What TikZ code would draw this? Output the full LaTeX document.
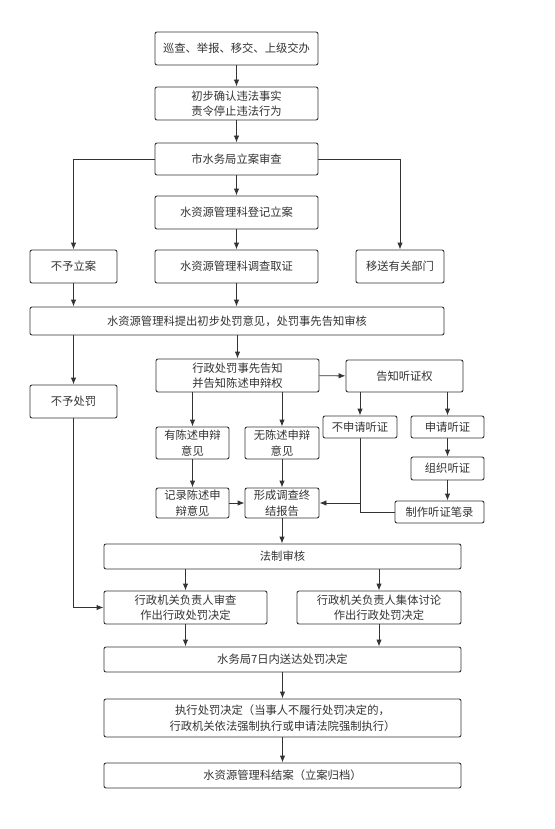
\documentclass[tikz,border=0pt]{standalone}
\usepackage{fontspec}
\setmainfont{Noto Sans CJK SC}
\usetikzlibrary{arrows.meta}
\definecolor{ink}{HTML}{333333}
\begin{document}
\begin{tikzpicture}[x=1pt, y=-1pt, >={Latex[length=7pt,width=5.5pt]}, color=ink, line width=.9pt,
  box/.style={draw=ink, rounded corners=2pt, fill=white, text=ink,
    align=center, inner sep=0pt, font=\fontsize{11.3}{15.5}\selectfont}]
\useasboundingbox (0,0) rectangle (554,829);
% main column
\node[box, minimum width=163, minimum height=33] (xc) at (236.5,48.5) {巡查、举报、移交、上级交办};
\node[box, minimum width=163, minimum height=33] (qr) at (236.5,103.5) {初步确认违法事实\\责令停止违法行为};
\node[box, minimum width=163, minimum height=32] (sc) at (236.5,159) {市水务局立案审查};
\node[box, minimum width=163, minimum height=33] (dj) at (236.5,212.5) {水资源管理科登记立案};
\node[box, minimum width=87, minimum height=33] (bylian) at (73.5,266.5) {不予立案};
\node[box, minimum width=163, minimum height=33] (dc) at (236.5,266.5) {水资源管理科调查取证};
\node[box, minimum width=88, minimum height=33] (ys) at (400,266.5) {移送有关部门};
\node[box, minimum width=414, minimum height=28] (yj) at (237,321) {水资源管理科提出初步处罚意见，处罚事先告知审核};
\node[box, minimum width=87, minimum height=33] (bycf) at (73.5,401.5) {不予处罚};
\node[box, minimum width=163, minimum height=33] (gz) at (237.5,375.5) {行政处罚事先告知\\并告知陈述申辩权};
\node[box, minimum width=117, minimum height=32] (tzq) at (404.5,376) {告知听证权};
% statements and hearing
\node[box, minimum width=73, minimum height=32] (ycs) at (192.5,443) {有陈述申辩\\意见};
\node[box, minimum width=74, minimum height=32] (wcs) at (282,443) {无陈述申辩\\意见};
\node[box, minimum width=74, minimum height=22] (bsq) at (360,427) {不申请听证};
\node[box, minimum width=73, minimum height=22] (sq) at (447.5,427) {申请听证};
\node[box, minimum width=73, minimum height=23] (zz) at (447.5,468.5) {组织听证};
\node[box, minimum width=89, minimum height=22] (bl) at (439.5,512) {制作听证笔录};
\node[box, minimum width=73, minimum height=30] (jl) at (192.5,503) {记录陈述申\\辩意见};
\node[box, minimum width=74, minimum height=30] (zj) at (282,503) {形成调查终\\结报告};
% decision
\node[box, minimum width=357, minimum height=25] (fz) at (282.5,556.5) {法制审核};
\node[box, minimum width=163, minimum height=33] (scj) at (185.5,607.5) {行政机关负责人审查\\作出行政处罚决定};
\node[box, minimum width=164, minimum height=33] (jt) at (379,607.5) {行政机关负责人集体讨论\\作出行政处罚决定};
\node[box, minimum width=357, minimum height=25] (sd) at (282.5,659.5) {水务局7日内送达处罚决定};
\node[box, minimum width=357, minimum height=38] (zx) at (282.5,718) {执行处罚决定（当事人不履行处罚决定的，\\行政机关依法强制执行或申请法院强制执行）};
\node[box, minimum width=357, minimum height=25] (ja) at (282.5,775.5) {水资源管理科结案（立案归档）};
% connectors
\draw[->] (xc) -- (qr);
\draw[->] (qr) -- (sc);
\draw[->] (sc) -- (dj);
\draw[->] (dj) -- (dc);
\draw[->] (sc.west) -| (bylian.north);
\draw[->] (sc.east) -| (ys.north);
\draw[->] (bylian) -- (bylian |- yj.north);
\draw[->] (dc) -- (dc |- yj.north);
\draw[->] (bycf.north |- yj.south) -- (bycf.north);
\draw[->] (gz.north |- yj.south) -- (gz.north);
\draw[->] (gz) -- (tzq);
\draw[->] (ycs.north |- gz.south) -- (ycs.north);
\draw[->] (wcs.north |- gz.south) -- (wcs.north);
\draw[->] (bsq.north |- tzq.south) -- (bsq.north);
\draw[->] (sq.north |- tzq.south) -- (sq.north);
\draw[->] (sq) -- (zz);
\draw[->] (zz.south) -- (zz.south |- bl.north);
\draw[->] (ycs) -- (jl);
\draw[->] (wcs) -- (zj);
\draw[->] (jl) -- (zj);
\draw[->] (bsq.south) |- (zj.east);
\draw (bl.west) -| (bsq.south);
\draw[->] (zj) -- (zj |- fz.north);
\draw[->] (scj.north |- fz.south) -- (scj.north);
\draw[->] (jt.north |- fz.south) -- (jt.north);
\draw[->] (bycf.south) |- (scj.west);
\draw[->] (scj.south) -- (scj.south |- sd.north);
\draw[->] (jt.south) -- (jt.south |- sd.north);
\draw[->] (sd) -- (zx);
\draw[->] (zx) -- (ja);
\end{tikzpicture}
\end{document}
